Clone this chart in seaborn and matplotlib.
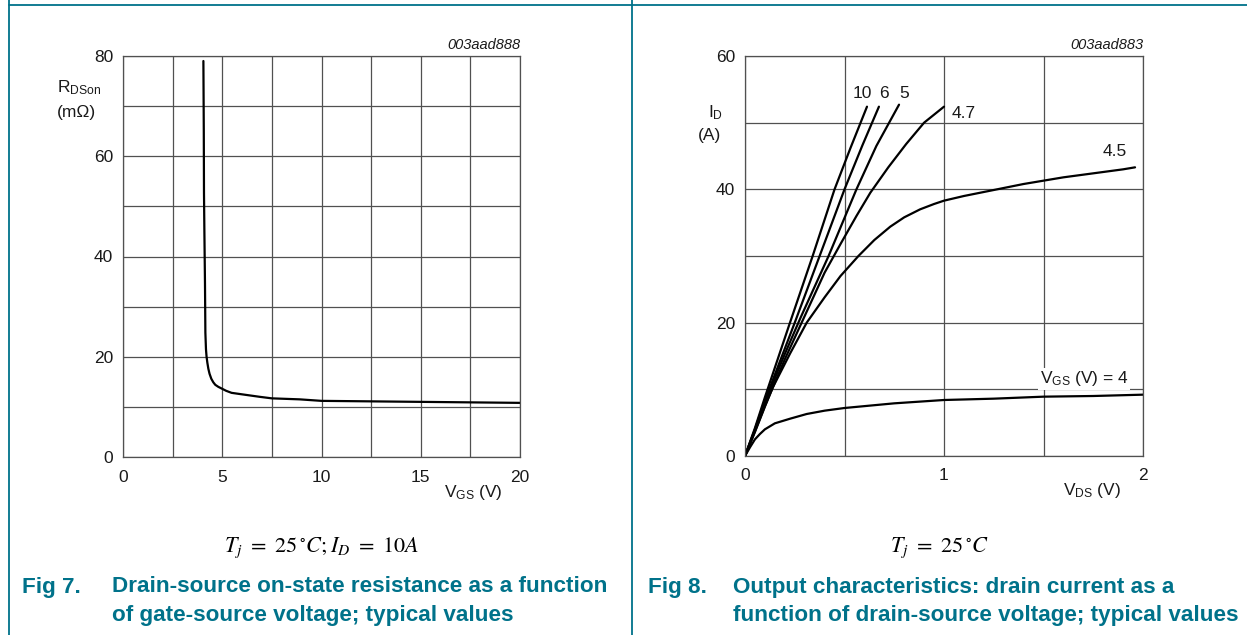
import numpy as np
import pandas as pd
import matplotlib
matplotlib.use("Agg")
import matplotlib.pyplot as plt
from matplotlib.lines import Line2D
import seaborn as sns

# ---------------- data ----------------
# Fig 7: on-state resistance vs gate-source voltage (Tj = 25 C, ID = 10 A)
vgs = [4.05, 4.07, 4.08, 4.10, 4.13, 4.15, 4.18, 4.21, 4.25, 4.30, 4.36, 4.45,
       4.55, 4.65, 4.80, 5.0, 5.2, 5.47, 6.0, 6.9, 7.5, 8.9, 10.0, 12.5, 15.0,
       17.5, 20.0]
rdson = [79.0, 65.0, 52.7, 45.0, 34.7, 24.8, 21.5, 20.0, 18.8, 17.6, 16.6, 15.6,
         14.9, 14.4, 14.0, 13.6, 13.2, 12.8, 12.5, 12.0, 11.7, 11.5, 11.2, 11.1,
         11.0, 10.9, 10.8]

# Fig 8: output characteristics, one curve per gate-source voltage
vds_10 = [0.0, 0.05, 0.10, 0.226, 0.34, 0.45, 0.53, 0.613]
id_10 = [0.0, 4.2, 8.8, 20.0, 30.0, 40.0, 46.2, 52.4]
vds_6 = [0.0, 0.05, 0.10, 0.25, 0.375, 0.50, 0.59, 0.673]
id_6 = [0.0, 4.0, 8.3, 20.0, 30.0, 40.0, 46.6, 52.4]
vds_5 = [0.0, 0.05, 0.10, 0.20, 0.28, 0.42, 0.56, 0.66, 0.774]
id_5 = [0.0, 3.9, 8.0, 15.3, 20.8, 30.0, 40.0, 46.5, 52.7]
vds_47 = [0.0, 0.05, 0.10, 0.20, 0.30, 0.40, 0.48, 0.56, 0.63, 0.72, 0.81, 0.90, 1.0]
id_47 = [0.0, 3.7, 7.5, 14.5, 21.0, 27.5, 31.8, 36.0, 39.5, 43.3, 46.8, 50.0, 52.4]
vds_45 = [0.0, 0.05, 0.10, 0.14, 0.227, 0.31, 0.40, 0.48, 0.57, 0.65, 0.73,
          0.80, 0.88, 0.95, 1.0, 1.1, 1.2, 1.3, 1.4, 1.5, 1.6, 1.7, 1.8, 1.9,
          1.96]
id_45 = [0.0, 3.6, 7.4, 10.3, 15.4, 20.0, 23.8, 27.0, 30.0, 32.4, 34.4,
         35.8, 37.0, 37.8, 38.3, 39.0, 39.6, 40.2, 40.8, 41.3, 41.8, 42.2, 42.6,
         43.0, 43.3]
vds_4 = [0.0, 0.025, 0.05, 0.075, 0.10, 0.15, 0.227, 0.31, 0.40, 0.50, 0.75,
         1.0, 1.25, 1.5, 1.75, 2.0]
id_4 = [0.0, 1.3, 2.5, 3.3, 4.0, 4.9, 5.6, 6.3, 6.8, 7.2, 7.9, 8.4, 8.6,
        8.9, 9.0, 9.2]

curve_vgs = ["10", "6", "5", "4.7", "4.5", "4"]
curve_vds = [vds_10, vds_6, vds_5, vds_47, vds_45, vds_4]
curve_id = [id_10, id_6, id_5, id_47, id_45, id_4]

# tick labels
x7_ticks = [0, 5, 10, 15, 20]
y7_ticks = [0, 20, 40, 60, 80]
x8_ticks = [0, 1, 2]
y8_ticks = [0, 20, 40, 60]

# ---------------- style ----------------
sns.set_style("white")
plt.rcParams["font.family"] = ["Liberation Sans", "DejaVu Sans"]
plt.rcParams["mathtext.fontset"] = "custom"
plt.rcParams["mathtext.rm"] = "Liberation Sans"
plt.rcParams["mathtext.it"] = "Liberation Sans:italic"
plt.rcParams["mathtext.bf"] = "Liberation Sans:bold"
plt.rcParams["mathtext.default"] = "it"

TEAL = "#00728a"
GRID = "#505050"
INK = "#1a1a1a"
FS = 12.5
LW = 1.6

W, H = 1247, 635
fig = plt.figure(figsize=(W / 100, H / 100), dpi=100)


def px(x, y):
    return x / W, 1 - y / H


def add_axes(l, t, r, b):
    return fig.add_axes([l / W, 1 - b / H, (r - l) / W, (b - t) / H])


def style_axes(ax, xmax, ymax, xmajor, ymajor, xgrid, ygrid):
    ax.set_xlim(0, xmax)
    ax.set_ylim(0, ymax)
    ax.set_xticks(xmajor)
    ax.set_yticks(ymajor)
    ax.set_xticks(xgrid, minor=True)
    ax.set_yticks(ygrid, minor=True)
    ax.grid(which="both", color=GRID, lw=0.9)
    ax.tick_params(which="both", length=0, labelsize=FS, colors=INK)
    ax.tick_params(axis="x", pad=9)
    ax.tick_params(axis="y", pad=7)
    for s in ax.spines.values():
        s.set_color(GRID)
        s.set_linewidth(0.9)
    ax.set_xlabel("")
    ax.set_ylabel("")


# ---------- Fig 7 ----------
ax1 = add_axes(123, 56, 520, 457)
df7 = pd.DataFrame({"VGS": vgs, "RDSon": rdson})
sns.lineplot(data=df7, x="VGS", y="RDSon", ax=ax1, color="black", lw=LW,
             estimator=None, sort=False)
style_axes(ax1, 20, 80, x7_ticks, y7_ticks,
           np.arange(0, 20.01, 2.5), np.arange(0, 80.01, 10))
ax1.set_xticklabels([str(v) for v in x7_ticks])
ax1.set_yticklabels([str(v) for v in y7_ticks])

fig.text(*px(57, 88), r"R$_{\mathregular{DSon}}$", fontsize=FS, color=INK,
         ha="left", va="center")
fig.text(*px(57, 113), "(m\u03a9)", fontsize=FS, color=INK, ha="left", va="center")
fig.text(*px(473, 493), r"V$_{\mathregular{GS}}$ (V)", fontsize=FS, color=INK,
         ha="center", va="center")
fig.text(*px(520, 45), "003aad888", fontsize=10.5, style="italic", color=INK,
         ha="right", va="center")

# ---------- Fig 8 ----------
ax2 = add_axes(745, 56, 1143, 456)
rows = []
for name, xs, ys in zip(curve_vgs, curve_vds, curve_id):
    for xv, yv in zip(xs, ys):
        rows.append((name, xv, yv))
df8 = pd.DataFrame(rows, columns=["VGS", "VDS", "ID"])
sns.lineplot(data=df8, x="VDS", y="ID", hue="VGS", units="VGS",
             palette={k: "black" for k in curve_vgs}, ax=ax2, lw=LW,
             estimator=None, sort=False, legend=False)
style_axes(ax2, 2, 60, x8_ticks, y8_ticks,
           np.arange(0, 2.01, 0.5), np.arange(0, 60.01, 10))
ax2.set_xticklabels([str(v) for v in x8_ticks])
ax2.set_yticklabels([str(v) for v in y8_ticks])

# curve labels
for txt, (x, y) in zip(["10", "6", "5"], [(0.59, 54.4), (0.70, 54.4), (0.80, 54.4)]):
    ax2.text(x, y, txt, fontsize=FS, color=INK, ha="center", va="center")
ax2.text(1.04, 51.4, "4.7", fontsize=FS, color=INK, ha="left", va="center")
ax2.text(1.86, 45.7, "4.5", fontsize=FS, color=INK, ha="center", va="center")
ax2.text(1.48, 11.6, r"V$_{\mathregular{GS}}$ (V) = 4", fontsize=FS, color=INK,
         ha="left", va="center",
         bbox=dict(facecolor="white", edgecolor="none", pad=1.0))

fig.text(*px(708, 113), r"I$_{\mathregular{D}}$", fontsize=FS, color=INK,
         ha="left", va="center")
fig.text(*px(698, 135), "(A)", fontsize=FS, color=INK, ha="left", va="center")
fig.text(*px(1092, 490), r"V$_{\mathregular{DS}}$ (V)", fontsize=FS, color=INK,
         ha="center", va="center")
fig.text(*px(1143, 45), "003aad883", fontsize=10.5, style="italic", color=INK,
         ha="right", va="center")

# ---------- conditions and captions ----------
fig.text(*px(321, 548), r"$T_j\ =\ 25\,^{\circ}C;I_D\ =\ 10A$", fontsize=16,
         math_fontfamily="stix", color="black", ha="center", va="center")
fig.text(*px(940, 548), r"$T_j\ =\ 25\,^{\circ}C$", fontsize=16,
         math_fontfamily="stix", color="black", ha="center", va="center")

cap = dict(fontsize=16.2, fontweight="bold", color=TEAL, va="center", ha="left")
fig.text(*px(22, 587), "Fig 7.", **cap)
fig.text(*px(112, 587), "Drain-source on-state resistance as a function", **cap)
fig.text(*px(112, 615), "of gate-source voltage; typical values", **cap)
fig.text(*px(648, 587), "Fig 8.", **cap)
fig.text(*px(733, 587), "Output characteristics: drain current as a", **cap)
fig.text(*px(733, 615), "function of drain-source voltage; typical values", **cap)

# page frame lines
for (x0, y0, x1, y1) in [(9, 5, W, 5), (9, 0, 9, H), (632, 0, 632, H)]:
    (a, b), (c, d) = px(x0, y0), px(x1, y1)
    fig.add_artist(Line2D([a, c], [b, d], transform=fig.transFigure,
                          color=TEAL, lw=1.3))

fig.savefig("out.png", dpi=100)
